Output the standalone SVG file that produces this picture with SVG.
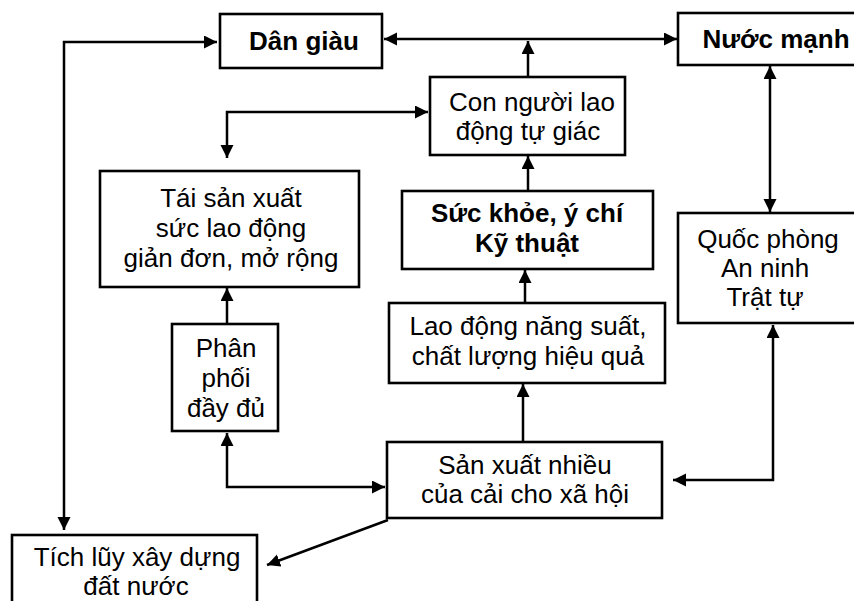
<svg xmlns="http://www.w3.org/2000/svg" width="854" height="601" viewBox="0 0 854 601">
<defs>
<marker id="ah" markerUnits="userSpaceOnUse" markerWidth="14" markerHeight="14" refX="13" refY="6.5" orient="auto-start-reverse">
<path d="M0,0 L13,6.5 L0,13 z" fill="#000"/>
</marker>
<style>
.box{fill:#fff;stroke:#000;stroke-width:2.6}
.t{font-family:"Liberation Sans",Arial,sans-serif;font-size:26px;fill:#000;text-anchor:middle}
.b{font-weight:bold}
.c{fill:none;stroke:#000;stroke-width:2.5}
</style>
</defs>
<rect width="854" height="601" fill="#fff"/>
<g id="connectors">
<path class="c" d="M217,42 H64 V530" marker-start="url(#ah)" marker-end="url(#ah)"/>
<path class="c" d="M384,39 H677" marker-start="url(#ah)" marker-end="url(#ah)"/>
<path class="c" d="M528,77 V41" marker-end="url(#ah)"/>
<path class="c" d="M227,158 V112 H428" marker-start="url(#ah)" marker-end="url(#ah)"/>
<path class="c" d="M528,191 V156" marker-end="url(#ah)"/>
<path class="c" d="M525,303 V270" marker-end="url(#ah)"/>
<path class="c" d="M523,442 V384" marker-end="url(#ah)"/>
<path class="c" d="M227,324 V288" marker-end="url(#ah)"/>
<path class="c" d="M385,487 H227 V433" marker-start="url(#ah)" marker-end="url(#ah)"/>
<path class="c" d="M773,325 V480 H673" marker-start="url(#ah)" marker-end="url(#ah)"/>
<path class="c" d="M770,66 V212" marker-start="url(#ah)" marker-end="url(#ah)"/>
<path class="c" d="M388,520 L267,565" marker-end="url(#ah)"/>
</g>
<g id="dan-giau">
<rect class="box" x="220" y="14" width="162" height="54"/>
<text class="t b" x="304" y="50">Dân giàu</text>
</g>
<g id="nuoc-manh">
<rect class="box" x="678" y="13" width="190" height="52"/>
<text class="t b" x="776" y="48">Nước mạnh</text>
</g>
<g id="con-nguoi">
<rect class="box" x="430" y="77" width="195" height="78"/>
<text class="t" x="532" y="111">Con người lao</text>
<text class="t" x="528" y="140">động tự giác</text>
</g>
<g id="tai-san-xuat">
<rect class="box" x="100" y="171" width="259" height="116"/>
<text class="t" x="231" y="207">Tái sản xuất</text>
<text class="t" x="231" y="237">sức lao động</text>
<text class="t" x="231" y="267">giản đơn, mở rộng</text>
</g>
<g id="suc-khoe">
<rect class="box" x="402" y="191" width="251" height="78"/>
<text class="t b" x="527" y="222">Sức khỏe, ý chí</text>
<text class="t b" x="527" y="252">Kỹ thuật</text>
</g>
<g id="quoc-phong">
<rect class="box" x="678" y="213" width="190" height="110"/>
<text class="t" x="768" y="248">Quốc phòng</text>
<text class="t" x="765" y="277">An ninh</text>
<text class="t" x="765" y="306">Trật tự</text>
</g>
<g id="phan-phoi">
<rect class="box" x="172" y="324" width="106" height="107"/>
<text class="t" x="226" y="357">Phân</text>
<text class="t" x="226" y="387">phối</text>
<text class="t" x="226" y="417">đầy đủ</text>
</g>
<g id="lao-dong">
<rect class="box" x="389" y="303" width="276" height="80"/>
<text class="t" x="528" y="335">Lao động năng suất,</text>
<text class="t" x="528" y="365">chất lượng hiệu quả</text>
</g>
<g id="san-xuat">
<rect class="box" x="387" y="442" width="275" height="76"/>
<text class="t" x="525" y="474">Sản xuất nhiều</text>
<text class="t" x="525" y="503">của cải cho xã hội</text>
</g>
<g id="tich-luy">
<rect class="box" x="12" y="535" width="245" height="80"/>
<text class="t" x="137" y="566">Tích lũy xây dựng</text>
<text class="t" x="136" y="595">đất nước</text>
</g>
</svg>
